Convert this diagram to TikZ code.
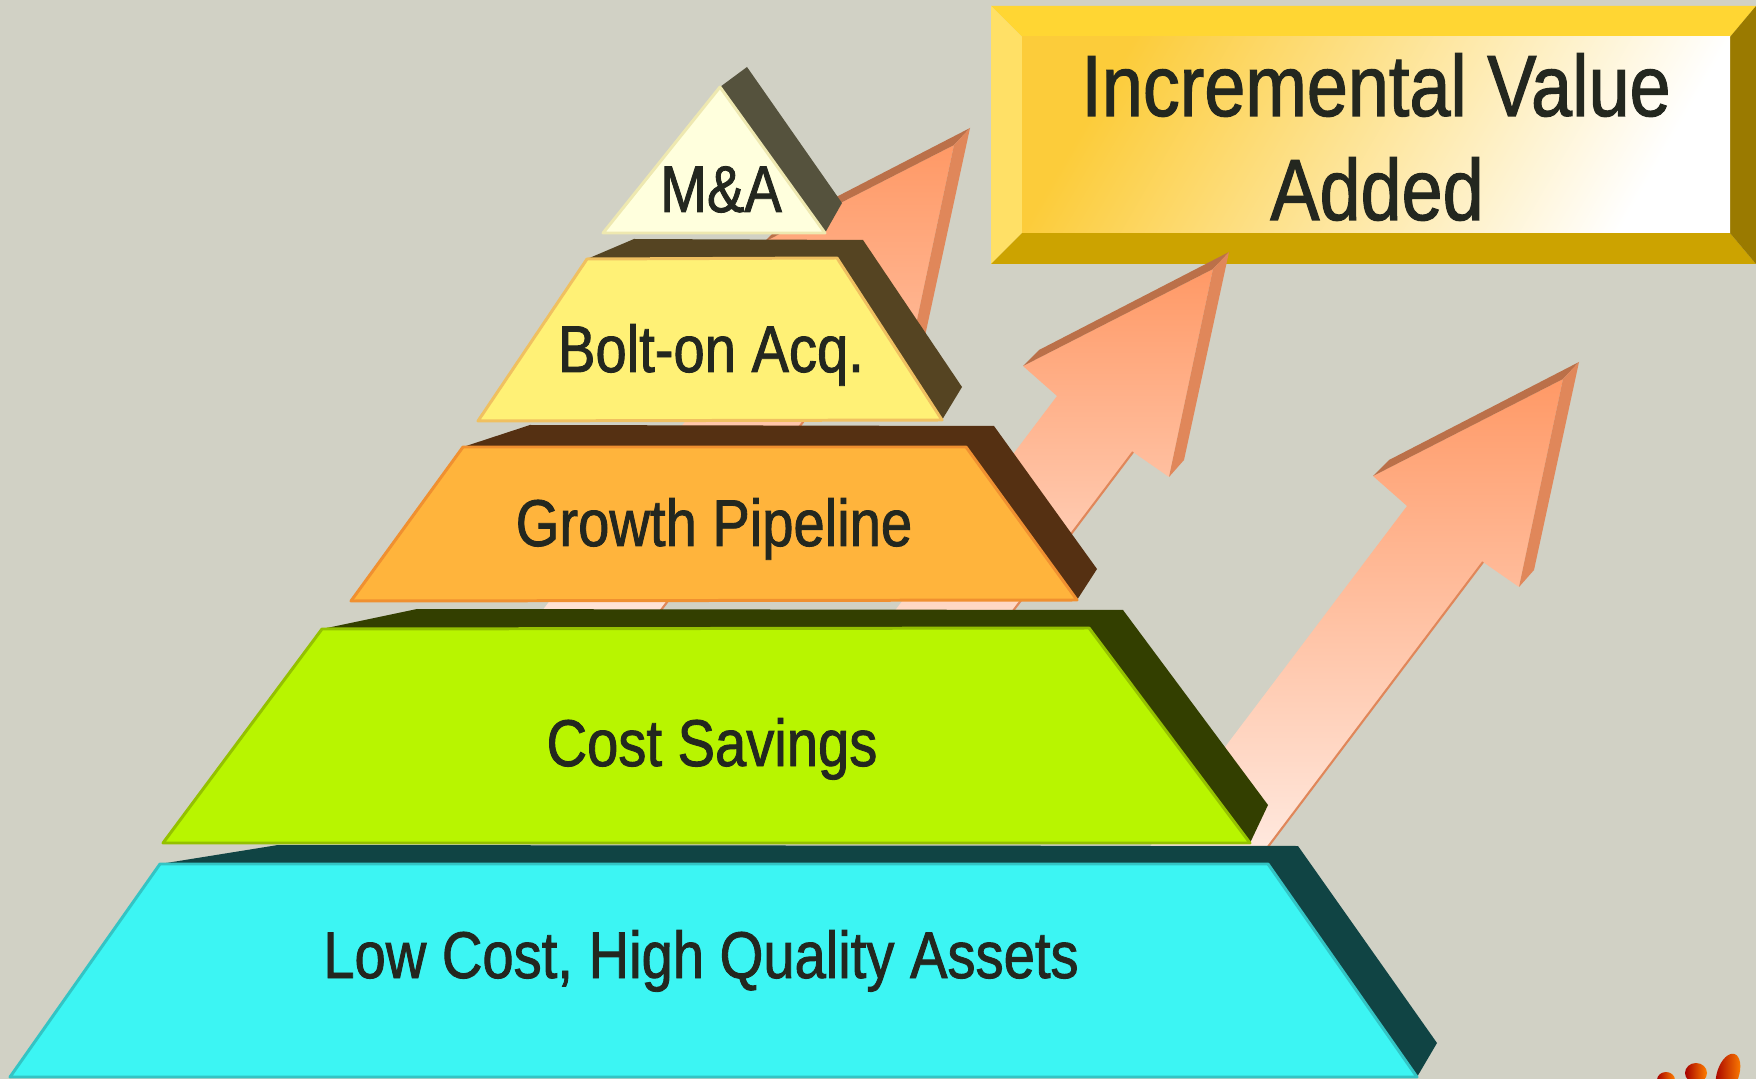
\documentclass[tikz,border=0pt]{standalone}
\usepackage{fontspec}
\setmainfont{Liberation Sans}[FakeStretch=0.85, FakeBold=1.3]
\usetikzlibrary{calc}

\definecolor{bg}{HTML}{D1D1C5}
\definecolor{ink}{HTML}{23271F}
\definecolor{assetsfill}{HTML}{3CF5F3}
\definecolor{assetsedge}{HTML}{33C4C4}
\definecolor{assetsdark}{HTML}{104444}
\definecolor{costfill}{HTML}{B8F500}
\definecolor{costedge}{HTML}{94C100}
\definecolor{costdark}{HTML}{333F00}
\definecolor{growthfill}{HTML}{FFB43C}
\definecolor{growthedge}{HTML}{F09030}
\definecolor{growthdark}{HTML}{553012}
\definecolor{boltfill}{HTML}{FFF176}
\definecolor{boltedge}{HTML}{F0C060}
\definecolor{boltdark}{HTML}{554422}
\definecolor{mafill}{HTML}{FFFFDD}
\definecolor{maedge}{HTML}{EEE8B0}
\definecolor{madark}{HTML}{55523D}
\definecolor{salmon}{HTML}{FF9966}
\definecolor{blush}{HTML}{FFF3EE}
\definecolor{arrowtopc}{HTML}{BB7049}
\definecolor{arrowsidec}{HTML}{E0875A}
\definecolor{goldtop}{HTML}{FFD633}
\definecolor{goldleft}{HTML}{FFE066}
\definecolor{goldbottom}{HTML}{CCA300}
\definecolor{goldright}{HTML}{9A7A00}
\definecolor{goldface}{HTML}{FCCC3A}

\tikzset{
	tiertext/.style={anchor=base, text=ink, font=\fontsize{18.8}{22}\selectfont},
	boxtext/.style={anchor=base, text=ink, font=\fontsize{24.7}{30}\selectfont},
}

% one tier of the pyramid: dark back, then front face
\newcommand{\maketier}[1]{
	\fill[#1dark] (#1-tl) -- (#1-btl) -- (#1-btr) -- (#1-bs) -- (#1-br) -- cycle;
	\filldraw[fill=#1fill, draw=#1edge, line width=0.85pt, line join=round] (#1-tl) -- (#1-tr) -- (#1-br) -- (#1-bl) -- cycle;
}

% 3d arrow from its back tip and shaft length
\newcommand{\makearrow}[3]{
	\coordinate (#1-bt) at (#2);
	\coordinate (#1-ft) at ($(#1-bt) + (-16,17)$);
	\coordinate (#1-lf) at ($(#1-bt) + (-206,114)$);
	\coordinate (#1-lb) at ($(#1-bt) + (-190,98)$);
	\coordinate (#1-nl) at ($(#1-bt) + (-172,144)$);
	\coordinate (#1-nr) at ($(#1-bt) + (-96,200)$);
	\coordinate (#1-rf) at ($(#1-bt) + (-60,225)$);
	\coordinate (#1-rb) at ($(#1-bt) + (-45,208)$);
	\coordinate (#1-tl) at ($(#1-nl) + (-0.755*#3,#3)$);
	\coordinate (#1-tr) at ($(#1-nr) + (-0.755*#3,#3)$);
	\shade[top color=salmon, bottom color=blush] (#1-ft) -- (#1-rf) -- (#1-nr) -- (#1-tr) -- (#1-tl) -- (#1-nl) -- (#1-lf) -- cycle;
	\fill[arrowtopc] (#1-lf) -- (#1-lb) -- (#1-bt) -- (#1-ft) -- cycle;
	\fill[arrowsidec] (#1-ft) -- (#1-bt) -- (#1-rb) -- (#1-rf) -- cycle;
	\draw[arrowsidec, line width=0.6pt] (#1-nr) -- (#1-tr);
}

\begin{document}
\begin{tikzpicture}[x=0.1mm, y=-0.1mm]
	\useasboundingbox (0,0) rectangle (1756,1079);
	\fill[bg] (0,0) rectangle (1756,1079);

	% value box
	\fill[goldtop] (991,6) -- (1756,6) -- (1730,37) -- (1022,37) -- cycle;
	\fill[goldleft] (991,6) -- (1022,37) -- (1022,233) -- (991,264) -- cycle;
	\fill[goldbottom] (991,264) -- (1022,233) -- (1730,233) -- (1756,264) -- cycle;
	\fill[goldright] (1756,6) -- (1730,37) -- (1730,233) -- (1756,264) -- cycle;
	\shade[top color=goldface, bottom color=white, shading angle=60] (1022,37) rectangle (1730,233);
	\node (value) at (1376,116) [boxtext] {Incremental Value};
	\node (added) at (1377,220) [boxtext] {Added};

	\makearrow{up1}{970,128}{378}
	\makearrow{up2}{1229,252}{300}
	\makearrow{up3}{1579,362}{350}

	\coordinate (assets-tl) at (160,864);
	\coordinate (assets-tr) at (1268,864);
	\coordinate (assets-br) at (1417,1077);
	\coordinate (assets-bl) at (10,1077);
	\coordinate (assets-btl) at (278,845);
	\coordinate (assets-btr) at (1298,846);
	\coordinate (assets-bs) at (1437,1043);
	\maketier{assets}
	\node (assetstext) at (701,978) [tiertext] {Low Cost, High Quality Assets};

	\coordinate (cost-tl) at (322,629);
	\coordinate (cost-tr) at (1089,628);
	\coordinate (cost-br) at (1250,843);
	\coordinate (cost-bl) at (163,843);
	\coordinate (cost-btl) at (417,609);
	\coordinate (cost-btr) at (1123,610);
	\coordinate (cost-bs) at (1268,805);
	\maketier{cost}
	\node (costtext) at (712,766) [tiertext] {Cost Savings};

	\coordinate (growth-tl) at (463,447);
	\coordinate (growth-tr) at (966,447);
	\coordinate (growth-br) at (1077,600);
	\coordinate (growth-bl) at (351,601);
	\coordinate (growth-btl) at (530,425);
	\coordinate (growth-btr) at (994,426);
	\coordinate (growth-bs) at (1097,569);
	\maketier{growth}
	\node (growthtext) at (714,546) [tiertext] {Growth Pipeline};

	\coordinate (bolt-tl) at (587,259);
	\coordinate (bolt-tr) at (837,258);
	\coordinate (bolt-br) at (942,420);
	\coordinate (bolt-bl) at (478,421);
	\coordinate (bolt-btl) at (634,239);
	\coordinate (bolt-btr) at (863,240);
	\coordinate (bolt-bs) at (962,387);
	\maketier{bolt}
	\node (bolttext) at (711,372) [tiertext] {Bolt-on Acq.};

	\coordinate (ma-tl) at (720,87);
	\coordinate (ma-tr) at (720,87);
	\coordinate (ma-br) at (825,233);
	\coordinate (ma-bl) at (603,233);
	\coordinate (ma-btl) at (747,67);
	\coordinate (ma-btr) at (747,67);
	\coordinate (ma-bs) at (842,203);
	\maketier{ma}
	\node (matext) at (721,212) [tiertext] {M\&A};

	% corner logo
	\shade[left color=red!65!black, right color=orange] (1666,1080) ellipse [x radius=0.9mm, y radius=0.8mm];
	\shade[left color=red!65!black, right color=orange] (1696,1073) ellipse [x radius=1.1mm, y radius=1mm];
	\shade[left color=red!65!black, right color=orange, rotate around={-18:(1728,1074)}] (1728,1074) ellipse [x radius=1.1mm, y radius=2.1mm];
\end{tikzpicture}
\end{document}
